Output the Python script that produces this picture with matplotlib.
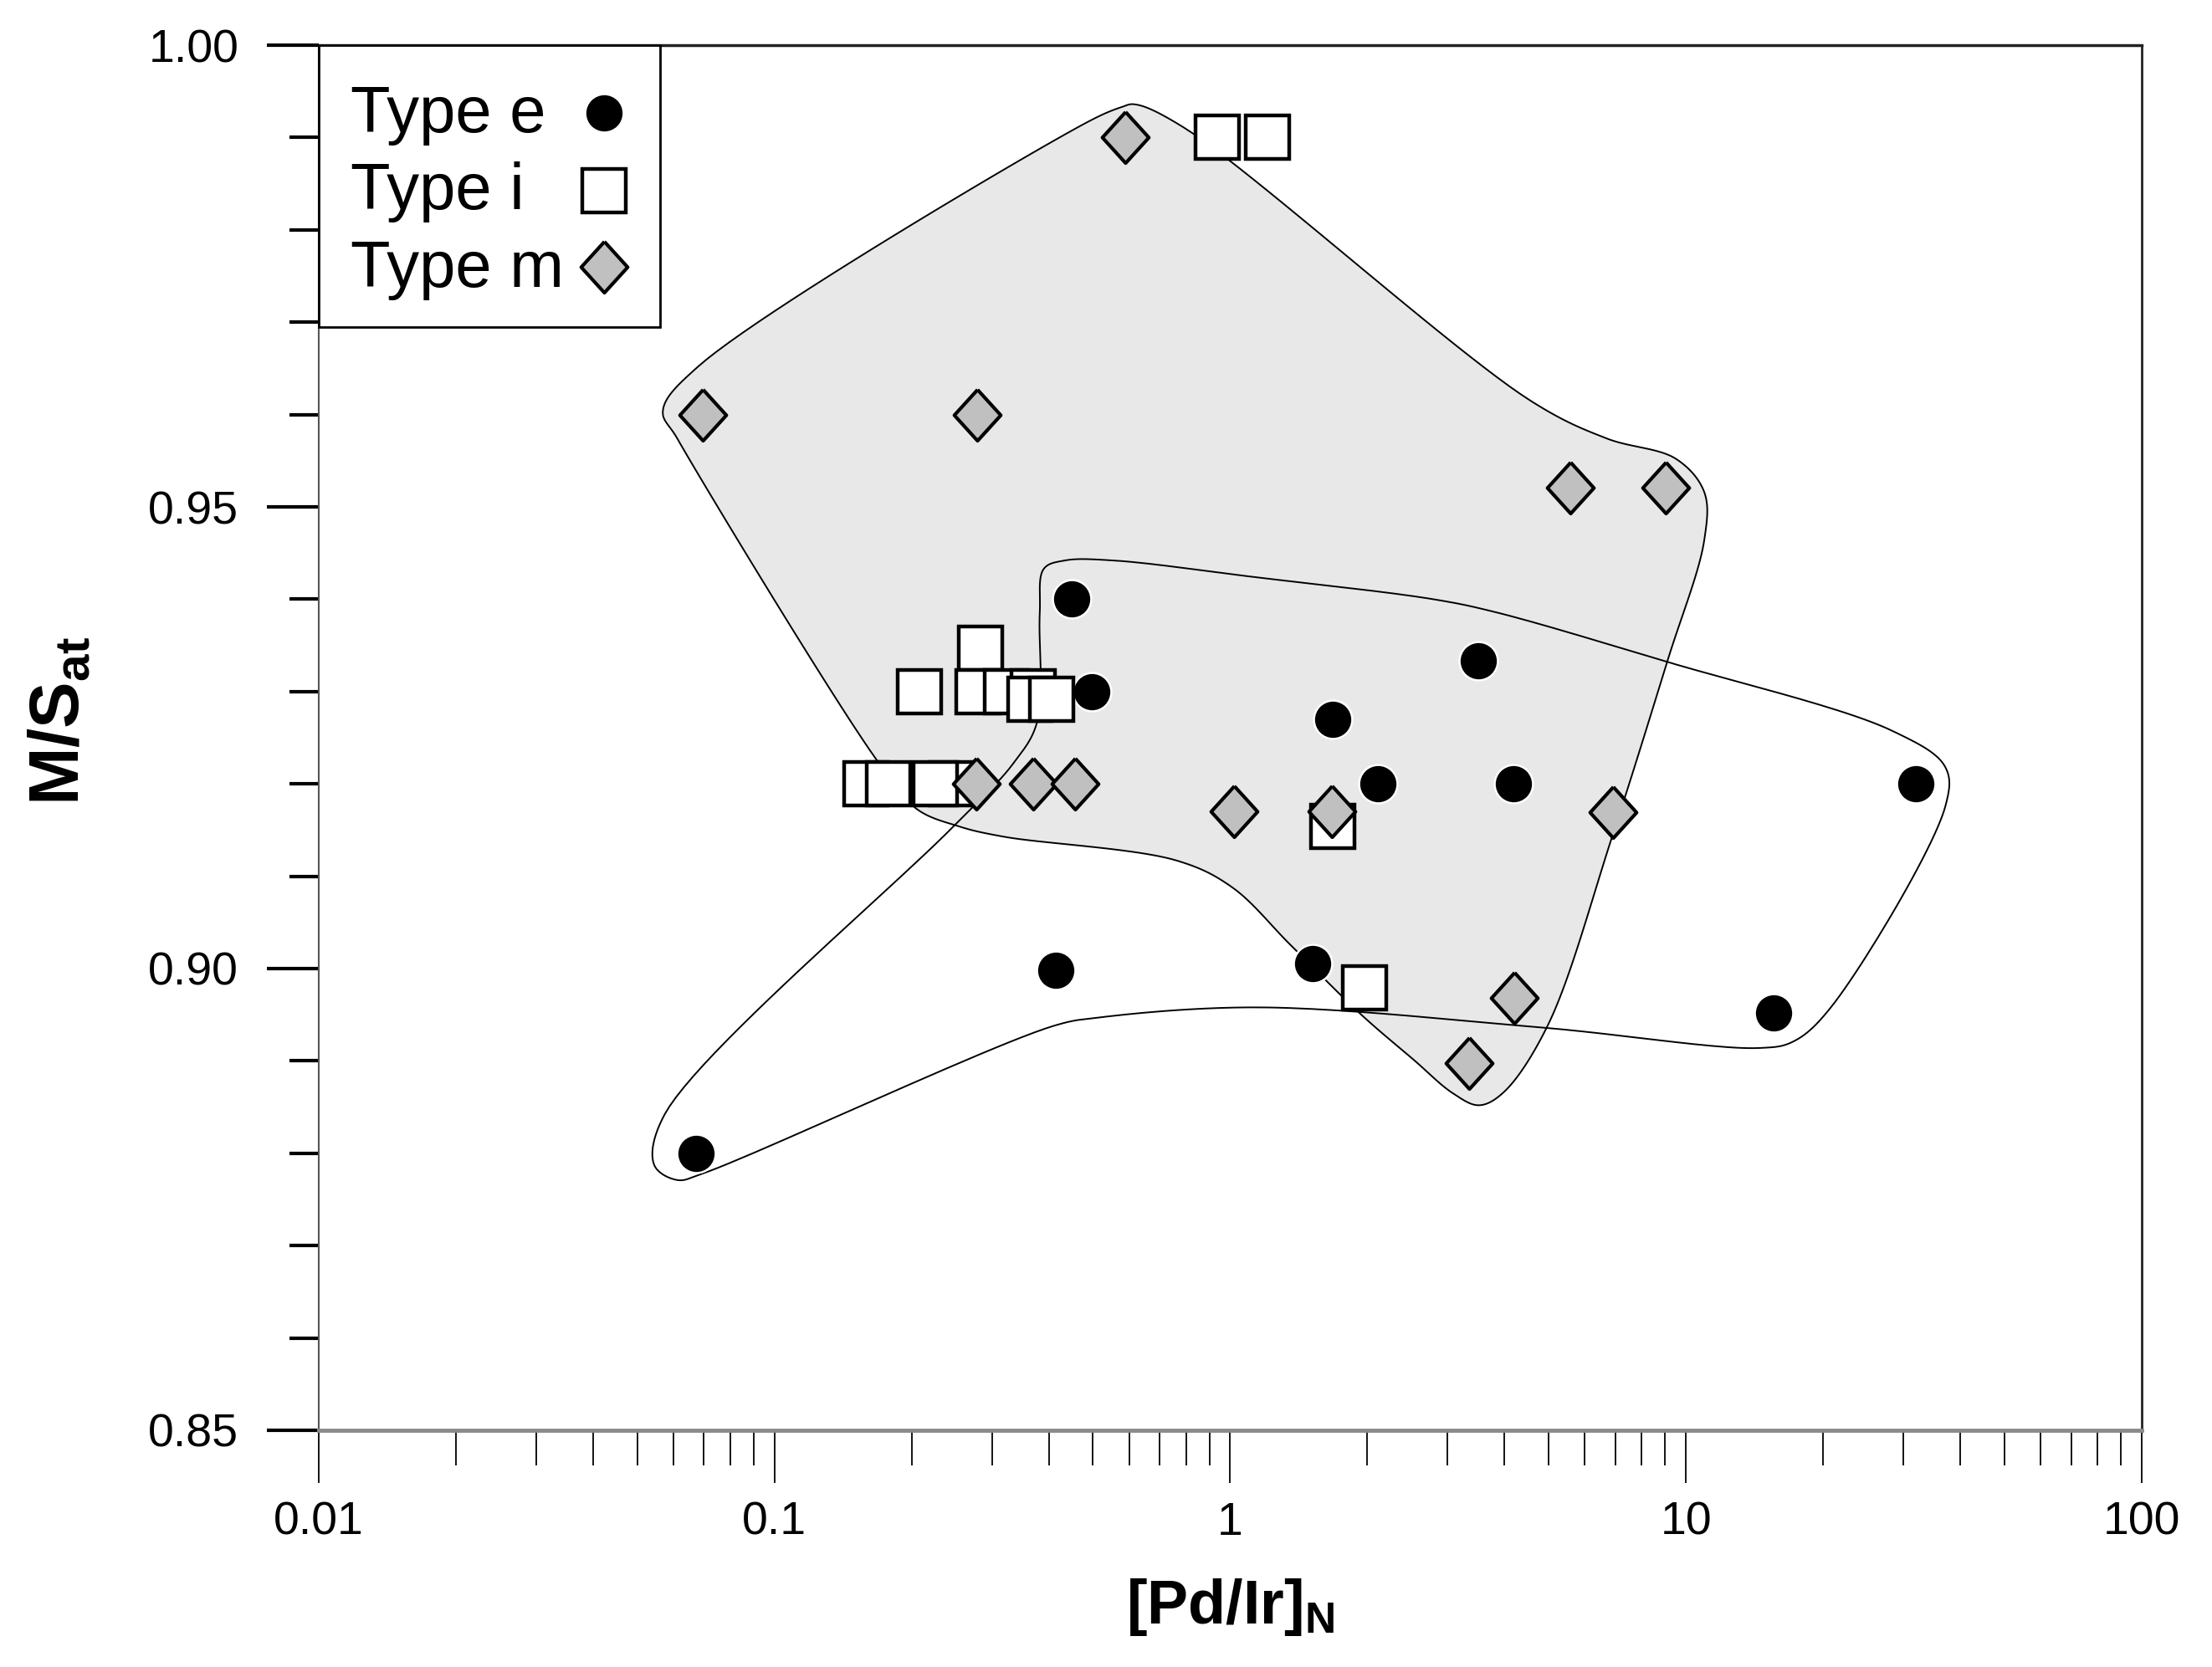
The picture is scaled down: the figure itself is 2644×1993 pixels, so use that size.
import numpy as np
import matplotlib
matplotlib.use('Agg')
import matplotlib.pyplot as plt
from matplotlib.patches import Rectangle

plt.rcParams['font.family'] = ['Liberation Sans', 'DejaVu Sans']
plt.rcParams['mathtext.fontset'] = 'custom'
plt.rcParams['mathtext.rm'] = 'Liberation Sans'
plt.rcParams['mathtext.bf'] = 'Liberation Sans:bold'
plt.rcParams['mathtext.it'] = 'Liberation Sans:italic'

# type e  (black dots)
e_x = [0.448, 0.496, 1.68, 3.50, 2.11, 4.18, 32.0, 0.415, 1.516, 15.6, 0.0672]
e_y = [0.940, 0.930, 0.927, 0.9333, 0.920, 0.920, 0.920, 0.8998, 0.9005, 0.8952, 0.880]

# type i  (open squares)
i_x = [0.937, 1.205, 0.283, 0.208, 0.280, 0.323, 0.370, 0.364, 0.405,
       0.159, 0.178, 0.244, 0.225, 1.68, 1.97]
i_y = [0.990, 0.990, 0.9347, 0.930, 0.930, 0.930, 0.930, 0.9292, 0.9292,
       0.920, 0.920, 0.920, 0.920, 0.9154, 0.8979]

# type m  (grey diamonds)
m_x = [0.588, 0.0697, 0.278, 5.57, 9.01, 0.277, 0.370, 0.456, 1.02, 1.67, 6.91, 4.20, 3.34]
m_y = [0.990, 0.960, 0.960, 0.9521, 0.9521, 0.920, 0.920, 0.920, 0.917, 0.917, 0.9169, 0.8968, 0.8898]

# envelope outlines (x, y data values)
grey_x = [0.616, 0.790, 4.56, 6.71, 9.51, 10.97, 10.97, 9.12, 6.90, 4.97, 3.96, 3.51,
          3.08, 2.53, 1.94, 1.36, 1.01, 0.763, 0.317, 0.254, 0.205, 0.167, 0.0612,
          0.0569, 0.0680, 0.483, 0.578]
grey_y = [0.9936, 0.9911, 0.9615, 0.9574, 0.9552, 0.9516, 0.9464, 0.9334, 0.9144,
          0.8938, 0.8865, 0.8852, 0.8865, 0.8901, 0.8950, 0.9025, 0.9088, 0.9117,
          0.9143, 0.9154, 0.9173, 0.9227, 0.9574, 0.9604, 0.9652, 0.9916, 0.9933]

env_e_x = [0.434, 0.553, 1.13, 2.79, 3.82, 9.12, 28.5, 37.1, 37.1, 20.8, 17.2, 14.5,
           4.87, 1.15, 0.515, 0.410, 0.0695, 0.0612, 0.0545, 0.0574, 0.247, 0.334,
           0.377, 0.382, 0.390]
env_e_y = [0.9442, 0.9442, 0.9424, 0.9400, 0.9386, 0.9332, 0.9257, 0.9218, 0.9176,
           0.8958, 0.8921, 0.8914, 0.8936, 0.8958, 0.8947, 0.8938, 0.8778, 0.8771,
           0.8787, 0.8842, 0.9154, 0.9222, 0.9267, 0.9384, 0.9433]

labels = ['Type e', 'Type i', 'Type m']

XMIN, XMAX = 0.01, 100
YMIN, YMAX = 0.85, 1.00


def smooth_closed(xs, ys, n=24):
    # centripetal catmull-rom in roughly screen-like units
    u = (np.log10(xs) - np.log10(XMIN)) / 4.0 * 2179
    v = (np.array(ys) - YMIN) / 0.15 * 1656
    pts = np.column_stack([u, v])
    P = np.vstack([pts[-1], pts, pts[0], pts[1]])
    out = []
    for k in range(1, len(pts) + 1):
        p0, p1, p2, p3 = P[k - 1], P[k], P[k + 1], P[k + 2]
        t0 = 0.0
        t1 = t0 + np.linalg.norm(p1 - p0) ** 0.5 + 1e-9
        t2 = t1 + np.linalg.norm(p2 - p1) ** 0.5 + 1e-9
        t3 = t2 + np.linalg.norm(p3 - p2) ** 0.5 + 1e-9
        t = np.linspace(t1, t2, n, endpoint=False)[:, None]
        a1 = (t1 - t) / (t1 - t0) * p0 + (t - t0) / (t1 - t0) * p1
        a2 = (t2 - t) / (t2 - t1) * p1 + (t - t1) / (t2 - t1) * p2
        a3 = (t3 - t) / (t3 - t2) * p2 + (t - t2) / (t3 - t2) * p3
        b1 = (t2 - t) / (t2 - t0) * a1 + (t - t0) / (t2 - t0) * a2
        b2 = (t3 - t) / (t3 - t1) * a2 + (t - t1) / (t3 - t1) * a3
        c = (t2 - t) / (t2 - t1) * b1 + (t - t1) / (t2 - t1) * b2
        out.append(c)
    out = np.vstack(out + [out[0][:1]])
    sx = 10 ** (out[:, 0] / 2179 * 4.0 + np.log10(XMIN))
    sy = out[:, 1] / 1656 * 0.15 + YMIN
    return sx, sy


fig = plt.figure(figsize=(26.44, 19.93), dpi=100)
ax = fig.add_axes([0.1441, 0.1420, 0.8241, 0.8309])

gx, gy = smooth_closed(grey_x, grey_y)
ax.fill(gx, gy, facecolor='#e8e8e8', edgecolor='black', lw=1.4, zorder=1)
ex, ey = smooth_closed(env_e_x, env_e_y)
ax.plot(ex, ey, color='black', lw=1.4, zorder=2)

diamond = [(0, 1.1), (1, 0), (0, -1.1), (-1, 0), (0, 1.1)]
sty_e = dict(ls='none', marker='o', ms=33, mfc='black', mec='white', mew=1.8)
sty_i = dict(ls='none', marker='s', ms=38, mfc='white', mec='black', mew=3.2)
sty_m = dict(ls='none', marker=diamond, ms=44, mfc='#c0c0c0', mec='black', mew=3.0)

ax.plot(e_x, e_y, zorder=3, **sty_e)
ax.plot(i_x, i_y, zorder=4, **sty_i)
ax.plot(m_x, m_y, zorder=5, **sty_m)

ax.set_xscale('log')
ax.set_xlim(XMIN, XMAX)
ax.set_ylim(YMIN, YMAX)
ax.set_xticks([0.01, 0.1, 1, 10, 100])
ax.set_xticklabels(['0.01', '0.1', '1', '10', '100'])
ax.xaxis.set_minor_locator(matplotlib.ticker.LogLocator(base=10, subs=np.arange(2, 10), numticks=20))
ax.xaxis.set_minor_formatter(matplotlib.ticker.NullFormatter())
ax.set_yticks([0.85, 0.90, 0.95, 1.00])
ax.set_yticklabels(['0.85', '0.90', '0.95', '1.00'])
ax.set_yticks(np.arange(0.86, 1.0, 0.01), minor=True)

ax.tick_params(axis='x', which='major', length=45, width=1.3, pad=16, labelsize=40, color='black')
ax.tick_params(axis='x', which='minor', length=30, width=1.3)
ax.tick_params(axis='y', which='major', length=45, width=3.0, pad=24, labelsize=40)
ax.tick_params(axis='y', which='minor', length=25, width=3.0)

ax.spines['left'].set_color('#555555')
ax.spines['left'].set_linewidth(1.5)
ax.spines['bottom'].set_color('#8a8a8a')
ax.spines['bottom'].set_linewidth(3.5)
ax.spines['top'].set_color('#222222')
ax.spines['top'].set_linewidth(2.5)
ax.spines['right'].set_color('#222222')
ax.spines['right'].set_linewidth(2.0)

ax.set_xlabel(r'$\mathbf{[Pd/Ir]_N}$', fontsize=53, va='center')
ax.xaxis.set_label_coords(0.5, -0.128)
ax.set_ylabel(r'$\mathbf{M/S_{at}}$', fontsize=60, va='center')
ax.yaxis.set_label_coords(-0.142, 0.512)

# legend box drawn by hand: text left, marker column on the right
ax.add_patch(Rectangle((0, 0.7965), 0.1872, 0.2035, transform=ax.transAxes,
                       facecolor='white', edgecolor='black', lw=2.0, zorder=10, clip_on=False))
text_y = [0.9372, 0.8816, 0.8255]
mark_y = [0.9511, 0.8951, 0.8401]
for lab, ty, my, sty in zip(labels, text_y, mark_y, [sty_e, sty_i, sty_m]):
    ax.text(0.0175, ty, lab, transform=ax.transAxes, fontsize=56, va='baseline',
            ha='left', zorder=11)
    ax.plot([0.1564], [my], transform=ax.transAxes, clip_on=False, zorder=11, **sty)

fig.savefig('out.png', dpi=100)
